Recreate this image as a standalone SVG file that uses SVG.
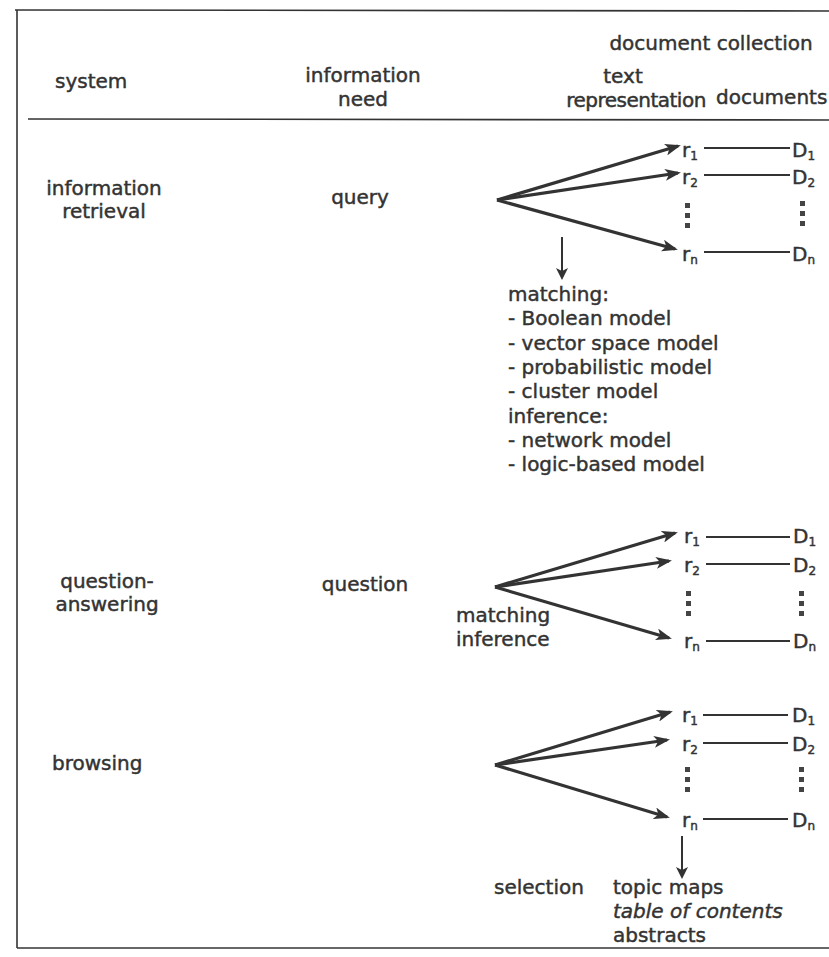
<svg xmlns="http://www.w3.org/2000/svg" width="829" height="957" viewBox="0 0 829 957">
<style>
text{font-family:"DejaVu Sans","Liberation Sans",sans-serif;font-size:20px;fill:#333;stroke:#333;stroke-width:0.45}
.m{text-anchor:middle}
.s{font-size:12px}
.frame{stroke:#333;stroke-width:1.6;fill:none}
.fan{stroke:#333;stroke-width:3.2;fill:none;marker-end:url(#ah)}
.link{stroke:#333;stroke-width:2.2}
.down{stroke:#333;stroke-width:2;marker-end:url(#dh)}
.dot{fill:#444}
</style>
<defs>
<marker id="ah" viewBox="0 0 16 12" refX="13" refY="6" markerWidth="16" markerHeight="12" markerUnits="userSpaceOnUse" orient="auto">
<path d="M0,0 L16,6 L0,12 L4,6 z" fill="#333"/>
</marker>
<marker id="dh" viewBox="0 0 12 12" refX="10" refY="6" markerWidth="12" markerHeight="12" markerUnits="userSpaceOnUse" orient="auto">
<path d="M0,0 L12,6 L0,12 L3,6 z" fill="#333"/>
</marker>
</defs>
<rect width="829" height="957" fill="#fff"/>

<g id="frame">
<line class="frame" x1="15" y1="10" x2="829" y2="11"/>
<line class="frame" x1="17" y1="10" x2="17" y2="948"/>
<line class="frame" x1="17" y1="948" x2="829" y2="948"/>
<line class="frame" x1="28" y1="119" x2="829" y2="120"/>
</g>

<g id="header">
<text class="m" x="711" y="50">document collection</text>
<text x="55" y="88">system</text>
<text class="m" x="363" y="82">information</text>
<text class="m" x="363" y="106">need</text>
<text class="m" x="623" y="83">text</text>
<text class="m" x="636" y="107" letter-spacing="-0.5">representation</text>
<text x="716" y="104">documents</text>
</g>

<g id="row-ir">
<text class="m" x="104" y="195">information</text>
<text class="m" x="104" y="218">retrieval</text>
<text class="m" x="360" y="204">query</text>
<g id="ir-reps">
<text x="682" y="157">r<tspan class="s" dy="3">1</tspan></text>
<text x="682" y="184">r<tspan class="s" dy="3">2</tspan></text>
<text x="682" y="261">r<tspan class="s" dy="3">n</tspan></text>
<rect class="dot" x="685" y="203" width="5" height="5"/>
<rect class="dot" x="685" y="213" width="5" height="5"/>
<rect class="dot" x="685" y="223" width="5" height="5"/>
</g>
<g id="ir-docs">
<text x="792" y="157">D<tspan class="s" dy="3">1</tspan></text>
<text x="792" y="184">D<tspan class="s" dy="3">2</tspan></text>
<text x="792" y="261">D<tspan class="s" dy="3">n</tspan></text>
<rect class="dot" x="800" y="201" width="5" height="5"/>
<rect class="dot" x="800" y="211" width="5" height="5"/>
<rect class="dot" x="800" y="221" width="5" height="5"/>
</g>
<g id="ir-methods">
<text x="508" y="301">matching:</text>
<text x="508" y="325">- Boolean model</text>
<text x="508" y="350">- vector space model</text>
<text x="508" y="374">- probabilistic model</text>
<text x="508" y="398">- cluster model</text>
<text x="508" y="423">inference:</text>
<text x="508" y="447">- network model</text>
<text x="508" y="471">- logic-based model</text>
</g>
</g>

<g id="row-qa">
<text class="m" x="107" y="588">question-</text>
<text class="m" x="107" y="611">answering</text>
<text class="m" x="365" y="591">question</text>
<text x="456" y="622">matching</text>
<text x="456" y="646">inference</text>
<g id="qa-reps">
<text x="684" y="543">r<tspan class="s" dy="3">1</tspan></text>
<text x="684" y="572">r<tspan class="s" dy="3">2</tspan></text>
<text x="684" y="648">r<tspan class="s" dy="3">n</tspan></text>
<rect class="dot" x="686" y="591" width="5" height="5"/>
<rect class="dot" x="686" y="601" width="5" height="5"/>
<rect class="dot" x="686" y="611" width="5" height="5"/>
</g>
<g id="qa-docs">
<text x="793" y="543">D<tspan class="s" dy="3">1</tspan></text>
<text x="793" y="572">D<tspan class="s" dy="3">2</tspan></text>
<text x="793" y="648">D<tspan class="s" dy="3">n</tspan></text>
<rect class="dot" x="799" y="591" width="5" height="5"/>
<rect class="dot" x="799" y="601" width="5" height="5"/>
<rect class="dot" x="799" y="611" width="5" height="5"/>
</g>
</g>

<g id="row-br">
<text x="52" y="770">browsing</text>
<g id="br-reps">
<text x="682" y="722">r<tspan class="s" dy="3">1</tspan></text>
<text x="682" y="751">r<tspan class="s" dy="3">2</tspan></text>
<text x="682" y="827">r<tspan class="s" dy="3">n</tspan></text>
<rect class="dot" x="685" y="767" width="5" height="5"/>
<rect class="dot" x="685" y="777" width="5" height="5"/>
<rect class="dot" x="685" y="787" width="5" height="5"/>
</g>
<g id="br-docs">
<text x="792" y="722">D<tspan class="s" dy="3">1</tspan></text>
<text x="792" y="751">D<tspan class="s" dy="3">2</tspan></text>
<text x="792" y="827">D<tspan class="s" dy="3">n</tspan></text>
<rect class="dot" x="799" y="767" width="5" height="5"/>
<rect class="dot" x="799" y="777" width="5" height="5"/>
<rect class="dot" x="799" y="787" width="5" height="5"/>
</g>
<text x="494" y="894">selection</text>
<g id="br-outputs">
<text x="613" y="894">topic maps</text>
<text x="613" y="918" font-style="italic">table of contents</text>
<text x="613" y="942">abstracts</text>
</g>
</g>

<g id="connectors">
<line class="fan" x1="497" y1="200" x2="678" y2="146"/>
<line class="fan" x1="497" y1="200" x2="678" y2="173"/>
<line class="fan" x1="497" y1="200" x2="675" y2="249"/>
<line class="link" x1="704" y1="148" x2="790" y2="148"/>
<line class="link" x1="704" y1="175" x2="790" y2="175"/>
<line class="link" x1="704" y1="252" x2="790" y2="252"/>
<line class="down" x1="562" y1="237" x2="562" y2="278"/>

<line class="fan" x1="495" y1="587" x2="675" y2="533"/>
<line class="fan" x1="495" y1="587" x2="669" y2="561"/>
<line class="fan" x1="495" y1="587" x2="669" y2="638"/>
<line class="link" x1="706" y1="537" x2="790" y2="537"/>
<line class="link" x1="706" y1="564" x2="790" y2="564"/>
<line class="link" x1="706" y1="641" x2="790" y2="641"/>

<line class="fan" x1="495" y1="765" x2="670" y2="712"/>
<line class="fan" x1="495" y1="765" x2="667" y2="740"/>
<line class="fan" x1="495" y1="765" x2="667" y2="817"/>
<line class="link" x1="703" y1="715" x2="788" y2="715"/>
<line class="link" x1="703" y1="743" x2="788" y2="743"/>
<line class="link" x1="703" y1="819" x2="788" y2="819"/>
<line class="down" x1="682" y1="836" x2="682" y2="877"/>
</g>
</svg>
